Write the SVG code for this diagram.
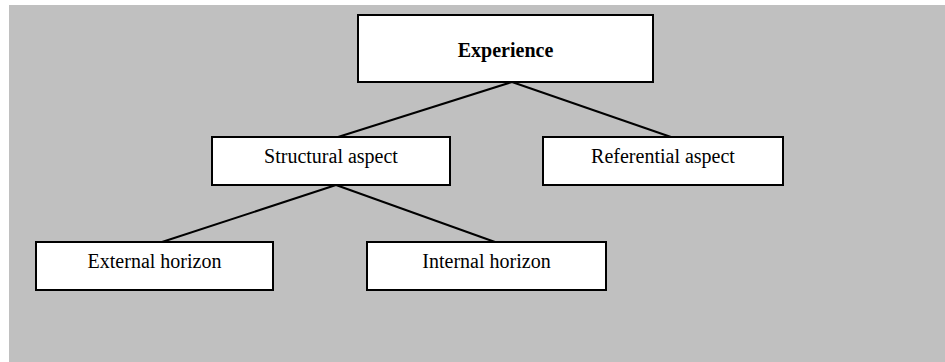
<svg xmlns="http://www.w3.org/2000/svg" width="945" height="362" viewBox="0 0 945 362">
<style>
.box{fill:#ffffff;stroke:#000000;stroke-width:2}
.lbl{font-family:"Liberation Serif","Times New Roman",serif;font-size:20px;fill:#000000;text-anchor:middle}
.bold{font-weight:bold}
.conn{stroke:#000000;stroke-width:2;fill:none}
</style>
<rect x="0" y="0" width="945" height="362" fill="#ffffff"/>
<rect x="9" y="5" width="936" height="357" fill="#c0c0c0"/>
<g id="connectors">
<line class="conn" x1="512" y1="82" x2="338" y2="137"/>
<line class="conn" x1="512" y1="82" x2="671" y2="137"/>
<line class="conn" x1="336" y1="185" x2="162" y2="242"/>
<line class="conn" x1="336" y1="185" x2="495" y2="242"/>
</g>
<g id="experience">
<rect class="box" x="358" y="15" width="295" height="67"/>
<text class="lbl bold" x="505.5" y="57">Experience</text>
</g>
<g id="structural">
<rect class="box" x="212" y="137" width="238" height="48"/>
<text class="lbl" x="331" y="163">Structural aspect</text>
</g>
<g id="referential">
<rect class="box" x="543" y="137" width="240" height="48"/>
<text class="lbl" x="663" y="163">Referential aspect</text>
</g>
<g id="external">
<rect class="box" x="36" y="242" width="237" height="48"/>
<text class="lbl" x="154.5" y="268">External horizon</text>
</g>
<g id="internal">
<rect class="box" x="367" y="242" width="239" height="48"/>
<text class="lbl" x="486.5" y="268">Internal horizon</text>
</g>
</svg>
